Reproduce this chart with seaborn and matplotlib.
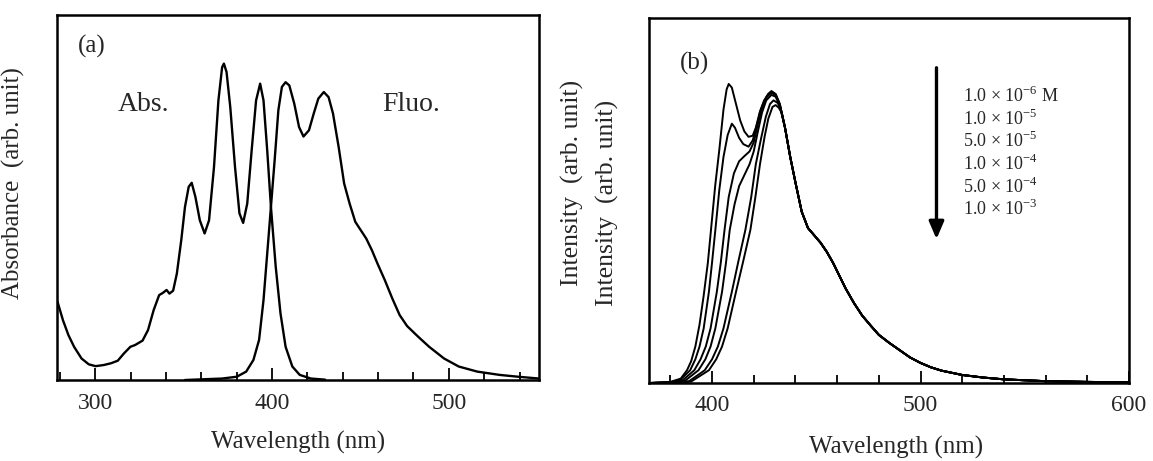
import matplotlib
matplotlib.use("Agg")
import matplotlib.pyplot as plt
from matplotlib.ticker import MultipleLocator
import pandas as pd
import seaborn as sns

sns.set_style("ticks")
plt.rcParams["font.family"] = ["Liberation Serif", "DejaVu Serif"]
plt.rcParams["mathtext.fontset"] = "custom"
plt.rcParams["mathtext.rm"] = "Liberation Serif"

# ---- panel (a): absorption / fluorescence (arb. units, 0..1 of axis height)
abs_nm = [278.7, 281.8, 284.9, 288.1, 292.3, 296.4, 300.2, 304.8, 309, 312.8, 316.3, 319.9,
          322.6, 326.8, 329.9, 333.1, 336.2, 338.3, 340.4, 342, 344.1, 346.2, 348.7, 350.8,
          352.9, 354.6, 356.7, 359.2, 361.9, 364.4, 367.2, 369.7, 371.8, 372.8, 374.3, 376.4,
          379.1, 381.6, 383.7, 386, 388.5, 391, 393.3, 395.2, 397.3, 399.4, 402.1, 404.8,
          407.7, 411.5, 415.7, 422, 430]
abs_val = [0.215, 0.164, 0.123, 0.091, 0.059, 0.043, 0.038, 0.041, 0.046, 0.053, 0.073, 0.091,
           0.096, 0.108, 0.137, 0.192, 0.233, 0.239, 0.247, 0.237, 0.245, 0.292, 0.384, 0.475,
           0.53, 0.541, 0.502, 0.438, 0.402, 0.438, 0.584, 0.767, 0.858, 0.868, 0.845, 0.749,
           0.584, 0.457, 0.431, 0.484, 0.63, 0.767, 0.813, 0.767, 0.63, 0.475, 0.311, 0.183,
           0.091, 0.037, 0.014, 0.004, 0.001]

flu_nm = [350.8, 371.8, 380.1, 385.4, 389.5, 392.7, 395.2, 397.3, 399.4, 401.5, 403.6, 405.6,
          407.7, 409.8, 412.6, 415.3, 417.8, 420.9, 423.6, 426.2, 429.3, 432, 434.5, 437.7,
          440.8, 443.9, 447.1, 450.2, 453.3, 456.5, 459.6, 463.8, 468, 472.2, 476.4, 482.6,
          488.9, 497.3, 505.6, 516.1, 528.7, 539.1, 551]
flu_val = [0.0, 0.004, 0.009, 0.023, 0.055, 0.11, 0.219, 0.347, 0.475, 0.603, 0.74, 0.804,
           0.817, 0.808, 0.758, 0.694, 0.668, 0.685, 0.731, 0.772, 0.79, 0.776, 0.731, 0.639,
           0.539, 0.484, 0.434, 0.411, 0.388, 0.356, 0.32, 0.274, 0.224, 0.178, 0.148, 0.119,
           0.091, 0.059, 0.037, 0.023, 0.014, 0.009, 0.004]

# ---- panel (b): concentration series of fluorescence spectra
conc_labels = ["1.0 × 10$^{-6}$ M", "1.0 × 10$^{-5}$", "5.0 × 10$^{-5}$",
               "1.0 × 10$^{-4}$", "5.0 × 10$^{-4}$", "1.0 × 10$^{-3}$"]

c1_nm = [370, 380, 385, 388, 390, 392, 394, 396, 398, 399.5, 401.5, 403.5, 405.5, 407, 408,
         409.5, 411.5, 413.5, 415.5, 417.5, 419.5, 421, 423, 425, 427, 428.5, 430.5, 432.5]
c1_val = [0, 0.003, 0.012, 0.035, 0.06, 0.1, 0.16, 0.24, 0.33, 0.42, 0.54, 0.64, 0.75, 0.805,
          0.82, 0.81, 0.765, 0.72, 0.69, 0.675, 0.678, 0.70, 0.745, 0.775, 0.793, 0.80, 0.792, 0.765]
c2_nm = [370, 380, 385, 389.5, 392, 394, 396, 398.5, 400, 401.6, 403.5, 405.5, 407.5, 409.5,
         411, 413, 415, 417.5, 419.5, 421, 423, 425, 427, 428.5, 430.5, 432.5]
c2_val = [0, 0.002, 0.01, 0.035, 0.065, 0.1, 0.15, 0.25, 0.33, 0.42, 0.53, 0.62, 0.68, 0.711,
          0.70, 0.672, 0.655, 0.648, 0.665, 0.695, 0.742, 0.773, 0.792, 0.80, 0.792, 0.765]
c3_nm = [370, 380, 386, 391.5, 394.5, 397, 399.3, 402.3, 404.2, 406, 408, 410.5, 413, 415.5,
         418, 420, 422, 424, 426, 428.5, 430.5, 432.5]
c3_val = [0, 0.002, 0.008, 0.035, 0.065, 0.1, 0.15, 0.25, 0.33, 0.42, 0.51, 0.575, 0.608, 0.622,
          0.635, 0.66, 0.71, 0.755, 0.783, 0.796, 0.789, 0.763]
c4_nm = [370, 380, 387, 393.5, 396.8, 399.3, 401.6, 404.8, 406.7, 408.5, 410.8, 413, 415.5,
         418, 420, 422, 424, 426, 428.5, 430.5, 432.5]
c4_val = [0, 0.001, 0.006, 0.035, 0.065, 0.1, 0.15, 0.25, 0.33, 0.42, 0.49, 0.54, 0.57, 0.6,
          0.635, 0.69, 0.742, 0.775, 0.79, 0.785, 0.76]
c5_nm = [370, 382, 389, 396.5, 400, 402.8, 405.5, 409.5, 412.5, 416, 418.8, 421, 423.5, 425.8,
         427.8, 429.5, 431.5, 433]
c5_val = [0, 0.001, 0.005, 0.035, 0.065, 0.1, 0.15, 0.25, 0.33, 0.42, 0.51, 0.6, 0.67, 0.73,
          0.765, 0.775, 0.768, 0.75]
c6_nm = [370, 384, 390, 398.5, 402, 404.8, 407.5, 411.5, 414.8, 418.4, 420.8, 423, 425.2, 427,
         429, 430.5, 432, 433.5]
c6_val = [0, 0.001, 0.004, 0.035, 0.065, 0.1, 0.15, 0.25, 0.33, 0.42, 0.51, 0.6, 0.675, 0.725,
          0.757, 0.762, 0.755, 0.74]

# shared long-wavelength tail of all six spectra
tail_nm = [435, 437.5, 440, 443, 446, 449, 452, 455, 458, 461, 464, 468, 472, 476, 480, 485,
           490, 495, 500, 505, 510, 520, 530, 540, 560, 580, 600]
tail_val = [0.70, 0.62, 0.55, 0.47, 0.425, 0.405, 0.385, 0.36, 0.33, 0.295, 0.26, 0.22, 0.185,
            0.158, 0.132, 0.11, 0.09, 0.07, 0.055, 0.043, 0.034, 0.022, 0.015, 0.01, 0.005,
            0.003, 0.002]

df_a = pd.concat([
    pd.DataFrame({"nm": abs_nm, "val": abs_val, "curve": "abs"}),
    pd.DataFrame({"nm": flu_nm, "val": flu_val, "curve": "fluo"}),
], ignore_index=True)

heads = [(c1_nm, c1_val), (c2_nm, c2_val), (c3_nm, c3_val),
         (c4_nm, c4_val), (c5_nm, c5_val), (c6_nm, c6_val)]
df_b = pd.concat([
    pd.DataFrame({"nm": h_nm + tail_nm, "val": h_val + tail_val, "conc": lab})
    for (h_nm, h_val), lab in zip(heads, conc_labels)
], ignore_index=True)

fig = plt.figure(figsize=(11.53, 4.61), dpi=100)
ax1 = fig.add_axes([0.0497, 0.1757, 0.4178, 0.7907])
ax2 = fig.add_axes([0.5633, 0.1692, 0.4159, 0.7911])

sns.lineplot(data=df_a, x="nm", y="val", units="curve", estimator=None,
             color="black", lw=1.7, ax=ax1)
sns.lineplot(data=df_b, x="nm", y="val", units="conc", estimator=None,
             color="black", lw=1.4, ax=ax2)

for ax, xlim in [(ax1, (278.6, 551)), (ax2, (370, 600))]:
    ax.set_xlim(*xlim)
    ax.set_ylim(0, 1)
    ax.set_yticks([])
    ax.xaxis.set_major_locator(MultipleLocator(100))
    ax.xaxis.set_minor_locator(MultipleLocator(20))
    ax.tick_params(axis="x", which="both", direction="in", top=False, labelsize=17, pad=9,
                   width=1.3, color="black")
    ax.tick_params(axis="x", which="major", length=9)
    ax.tick_params(axis="x", which="minor", length=6)
    for s in ax.spines.values():
        s.set_visible(True)
        s.set_linewidth(1.8)
        s.set_color("black")
    ax.set_xlabel("Wavelength (nm)", fontsize=18)
    ax.xaxis.label.set_va("center")

ax1.xaxis.set_label_coords(0.5, -0.170)
ax2.xaxis.set_label_coords(0.515, -0.176)

ax1.set_ylabel("Absorbance  (arb. unit)", fontsize=18)
ax1.yaxis.set_label_coords(-0.067, 0.54)
ax2.set_ylabel("Intensity  (arb. unit)", fontsize=18.5)
ax2.yaxis.set_label_coords(-0.063, 0.495)
ax2.text(-0.161, 0.548, "Intensity  (arb. unit)", transform=ax2.transAxes, fontsize=18.5,
         rotation=90, ha="center", va="center")

ax1.text(0.0714, 0.914, "(a)", transform=ax1.transAxes, fontsize=18, ha="center", va="center")
ax1.text(0.179, 0.755, "Abs.", transform=ax1.transAxes, fontsize=20, ha="center", va="center")
ax1.text(0.7355, 0.755, "Fluo.", transform=ax1.transAxes, fontsize=20, ha="center", va="center")
ax2.text(0.093, 0.875, "(b)", transform=ax2.transAxes, fontsize=18, ha="center", va="center")

ax2.annotate("", xy=(0.5985, 0.387), xytext=(0.5985, 0.872), xycoords="axes fraction",
             arrowprops=dict(arrowstyle="-|>,head_length=0.7,head_width=0.3",
                             lw=2.4, color="black", mutation_scale=15))
for i, lab in enumerate(conc_labels):
    ax2.text(0.653, 0.787 - i * 0.0622, lab, transform=ax2.transAxes, fontsize=13,
             ha="left", va="center")

fig.savefig("out.png", dpi=100)
